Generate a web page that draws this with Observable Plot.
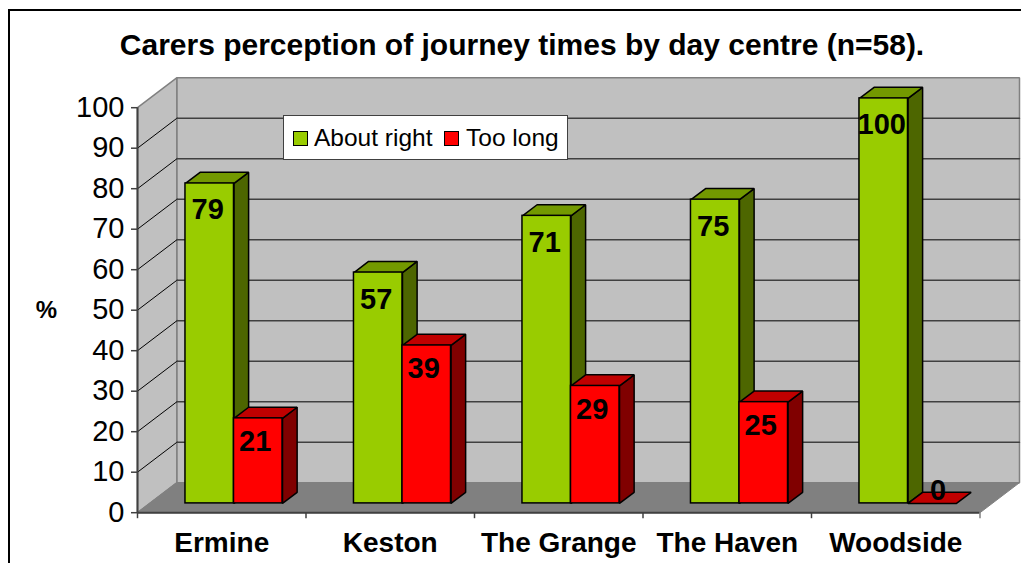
<!DOCTYPE html>
<html>
<head>
<meta charset="utf-8">
<script src="https://cdn.jsdelivr.net/npm/d3@7"></script>
<script src="https://cdn.jsdelivr.net/npm/@observablehq/plot@0.6"></script>
<style>
  html, body { margin: 0; padding: 0; background: #fff; overflow: hidden; }
  #root { position: relative; width: 1021px; height: 563px; font-family: "Liberation Sans", Arial, sans-serif; overflow: hidden; }
  #root svg { position: absolute; left: 0; top: 0; }
  #frame { position: absolute; left: 8px; top: 9px; width: 1030px; height: 570px; border-left: 2px solid #000; border-top: 2px solid #000; }
  #title { position: absolute; left: 0; top: 27px; width: 1044px; text-align: center; font-weight: bold; font-size: 30px; line-height: 36px; color: #000; white-space: nowrap; }
  #legend { position: absolute; left: 283px; top: 114.5px; width: 283px; height: 43px; background: #fff; border: 1px solid #404040; box-sizing: content-box; font-size: 24.5px; color: #000; }
  #legend .sw { position: absolute; top: 15px; width: 13px; height: 13px; border: 1px solid #000; }
  #legend .tx { position: absolute; top: 7px; line-height: 30px; white-space: nowrap; }
</style>
</head>
<body>
<div id="root">
  <div id="frame"></div>
  <div id="title"></div>
  <div id="legend"></div>
</div>
<script>
const titleText = "Carers perception of journey times by day centre (n=58).";
const categories = ["Ermine", "Keston", "The Grange", "The Haven", "Woodside"];
const aboutRight = [79, 57, 71, 75, 100];
const tooLong = [21, 39, 29, 25, 0];
const yTicks = [0, 10, 20, 30, 40, 50, 60, 70, 80, 90, 100];
const seriesNames = ["About right", "Too long"];
const green = { front: "#99cc00", top: "#739900", side: "#4d6600" };
const red = { front: "#ff0000", top: "#c00000", side: "#800000" };

// Oblique 3D projection, expressed in scale units (categories, percent)
const depthX = 0.2344, depthY = 7.41;
const barNear = 0.31, barFar = 0.68, barW = 0.288, barGap = 0.212;
const p = (u, v, d) => ({ x: u + d * depthX, y: v + d * depthY });

const poly = (pts, id) => pts.map((q) => ({ ...q, id }));
const sideWall = poly([p(0, 0, 0), p(0, 0, 1), p(0, 100, 1), p(0, 100, 0)], "side");
const backWall = poly([p(0, 0, 1), p(5, 0, 1), p(5, 100, 1), p(0, 100, 1)], "back");
const floor = poly([p(0, 0, 0), p(5, 0, 0), p(5, 0, 1), p(0, 0, 1)], "floor");
const gridV = yTicks.slice(1, -1);
const gridBack = gridV.flatMap((v) => poly([p(0, v, 1), p(5, v, 1)], v));
const gridSide = gridV.flatMap((v) => poly([p(0, v, 0), p(0, v, 1)], v));

const bars = (values, offset) => values.map((v, i) => ({
  i, v, u0: i + barGap + offset, u1: i + barGap + offset + barW
}));
const greenBars = bars(aboutRight, 0);
const redBars = bars(tooLong, barW);
const sideFace = (b) => poly([p(b.u1, 0, barNear), p(b.u1, 0, barFar), p(b.u1, b.v, barFar), p(b.u1, b.v, barNear)], b.i);
const topFace = (b) => poly([p(b.u0, b.v, barNear), p(b.u1, b.v, barNear), p(b.u1, b.v, barFar), p(b.u0, b.v, barFar)], b.i);
const polyMark = (data, fill, stroke, strokeWidth) => Plot.line(data, {
  x: "x", y: "y", z: "id", fill, stroke, strokeWidth, curve: "linear-closed", strokeLinejoin: "miter"
});
const frontMark = (data, fill) => Plot.rect(data, {
  x1: (b) => b.u0 + barNear * depthX, x2: (b) => b.u1 + barNear * depthX,
  y1: () => barNear * depthY,
  y2: (b) => b.v + barNear * depthY,
  fill, stroke: "#000", strokeWidth: 1.5, inset: 0
});
const labelMark = (data, shiftU, below, zeroUp) => Plot.text(data, {
  x: (b) => b.u0 + barNear * depthX + barW / 2 + (b.v === 0 ? 0.035 : shiftU),
  y: (b) => b.v + barNear * depthY + (b.v === 0 ? zeroUp : -below),
  text: (b) => String(b.v),
  fontSize: 29, fontWeight: "bold", fill: "#000", lineAnchor: "middle", textAnchor: "middle"
});

const chart = Plot.plot({
  width: 1021,
  height: 563,
  marginLeft: 137,
  marginRight: 41.5,
  marginTop: 107.2,
  marginBottom: 50.8,
  style: { fontFamily: '"Liberation Sans", Arial, sans-serif', background: "transparent", overflow: "visible" },
  x: { type: "linear", domain: [0, 5] },
  y: { type: "linear", domain: [0, 100] },
  marks: [
    polyMark(sideWall, "#c0c0c0", "#808080", 1.5),
    polyMark(backWall, "#c0c0c0", "#808080", 1.5),
    polyMark(floor, "#808080", "#808080", 1),
    Plot.line(gridSide, { x: "x", y: "y", z: "id", stroke: "#000", strokeWidth: 1 }),
    Plot.line(gridBack, { x: "x", y: "y", z: "id", stroke: "#404040", strokeWidth: 1.5 }),
    polyMark(greenBars.flatMap(sideFace), green.side, "#000", 1.5),
    polyMark(greenBars.flatMap(topFace), green.top, "#000", 1.5),
    frontMark(greenBars, green.front),
    polyMark(redBars.filter((b) => b.v > 0).flatMap(sideFace), red.side, "#000", 1.5),
    polyMark(redBars.flatMap(topFace), red.top, "#000", 1.5),
    frontMark(redBars.filter((b) => b.v > 0), red.front),
    labelMark(greenBars, -0.012, 6.6, 0),
    labelMark(redBars, -0.018, 5.8, 3.2),
    Plot.ruleX([0], { stroke: "#404040", strokeWidth: 2, y1: 0, y2: 100 }),
    Plot.ruleY([0], { stroke: "#404040", strokeWidth: 2, x1: 0, x2: 5 }),
    Plot.axisY(yTicks, { tickSize: 6, tickPadding: 7, fontSize: 29, label: null, stroke: "#404040", strokeWidth: 1.5 }),
    Plot.axisX(d3.range(categories.length), { tickSize: 6, tickFormat: () => "", label: null, stroke: "#404040", strokeWidth: 1.5 }),
    Plot.axisX([categories.length], { tickSize: 6, tickFormat: () => "", label: null, stroke: "#808080", strokeWidth: 1.5 }),
    Plot.axisX(categories.map((c, i) => i + 0.5), {
      tickSize: 0, tickPadding: 19, fontSize: 28, fontWeight: "bold", label: null,
      tickFormat: (d) => categories[d - 0.5]
    }),
    Plot.text(["%"], { frameAnchor: "left", dx: -91, fontSize: 24, fontWeight: "bold", fill: "#000", textAnchor: "middle" })
  ]
});
document.getElementById("root").insertBefore(chart, document.getElementById("frame"));
document.getElementById("title").textContent = titleText;

const legend = document.getElementById("legend");
const legendItems = [
  { name: seriesNames[0], color: green.front, sw: 9, tx: 30 },
  { name: seriesNames[1], color: red.front, sw: 160, tx: 182 }
];
legendItems.forEach((it) => {
  const s = document.createElement("div");
  s.className = "sw"; s.style.left = it.sw + "px"; s.style.background = it.color;
  const t = document.createElement("div");
  t.className = "tx"; t.style.left = it.tx + "px"; t.textContent = it.name;
  legend.append(s, t);
});
</script>
</body>
</html>
